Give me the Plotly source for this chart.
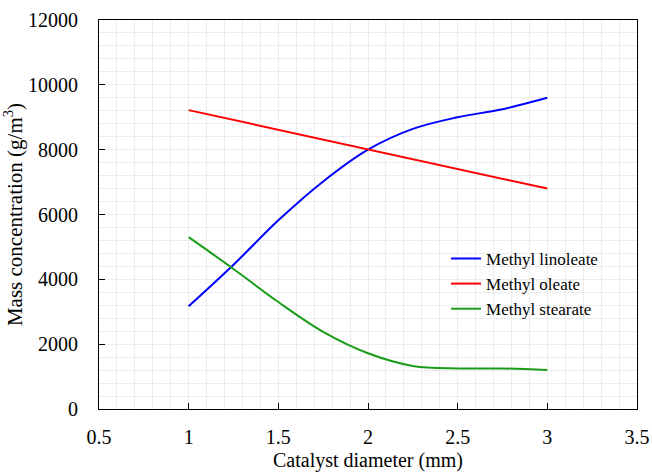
import plotly.graph_objects as go

diameter = [1, 1.25, 1.5, 1.75, 2, 2.25, 2.5, 2.75, 3]
linoleate = [3170, 4450, 5820, 7020, 8000, 8640, 9000, 9250, 9600]
stearate = [5300, 4320, 3300, 2380, 1720, 1330, 1250, 1250, 1200]
oleate_x = [1, 3]
oleate = [9220, 6800]

x_ticks = [0.5, 1, 1.5, 2, 2.5, 3, 3.5]
x_labels = ["0.5", "1", "1.5", "2", "2.5", "3", "3.5"]
y_ticks = [0, 2000, 4000, 6000, 8000, 10000, 12000]
y_labels = ["0", "2000", "4000", "6000", "8000", "10000", "12000"]

FONT = "Liberation Serif, Times New Roman, serif"
GRID = "#ececec"

fig = go.Figure()
fig.add_trace(go.Scatter(x=diameter, y=linoleate, mode="lines", name="Methyl linoleate",
                         line=dict(color="#0000ff", width=2, shape="spline", smoothing=1.0)))
fig.add_trace(go.Scatter(x=oleate_x, y=oleate, mode="lines", name="Methyl oleate",
                         line=dict(color="#ff0000", width=2)))
fig.add_trace(go.Scatter(x=diameter, y=stearate, mode="lines", name="Methyl stearate",
                         line=dict(color="#1a9c1a", width=2, shape="spline", smoothing=1.0)))

fig.update_layout(
    width=652, height=472,
    margin=dict(l=99, r=15, t=20, b=63),
    paper_bgcolor="white", plot_bgcolor="white",
    font=dict(family=FONT, size=20, color="black"),
    showlegend=True,
    legend=dict(x=0.645, y=0.432, xanchor="left", yanchor="top",
                bgcolor="rgba(0,0,0,0)", borderwidth=0,
                font=dict(family=FONT, size=17, color="black"),
                tracegroupgap=0, itemwidth=30),
    xaxis=dict(range=[0.5, 3.5], tickvals=x_ticks, ticktext=x_labels,
               automargin=False, ticklabelstandoff=10,
               showgrid=True, gridcolor=GRID, gridwidth=1,
               minor=dict(dtick=0.1, showgrid=True, gridcolor=GRID, gridwidth=1),
               ticks="inside", ticklen=6, tickcolor="black",
               showline=True, linecolor="black", linewidth=1, mirror=True,
               zeroline=False,
               title=dict(text="Catalyst diameter (mm)", standoff=6,
                          font=dict(family=FONT, size=20))),
    yaxis=dict(range=[0, 12000], tickvals=y_ticks, ticktext=y_labels,
               automargin=False, ticklabelstandoff=16,
               showgrid=True, gridcolor=GRID, gridwidth=1,
               minor=dict(dtick=400, showgrid=True, gridcolor=GRID, gridwidth=1),
               ticks="inside", ticklen=6, tickcolor="black",
               showline=True, linecolor="black", linewidth=1, mirror=True,
               zeroline=False,
               title=dict(text="Mass concentration (g/m<sup>3</sup>)", standoff=2,
                          font=dict(family=FONT, size=21))),
)

fig.write_html(
    "out.html",
    config={"displayModeBar": False},
    post_script="document.body.style.margin='0';document.body.style.overflow='hidden';",
)
